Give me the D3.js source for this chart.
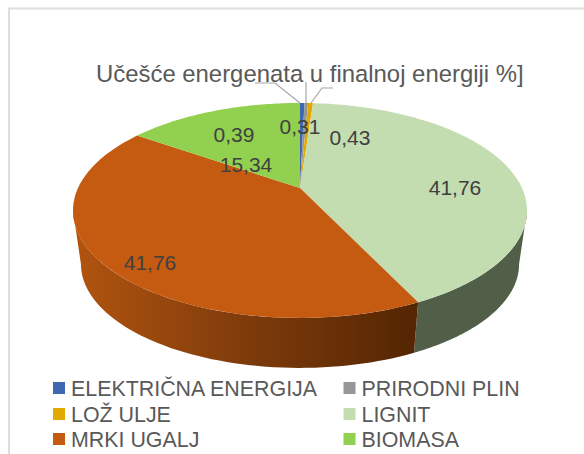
<!DOCTYPE html>
<html><head><meta charset="utf-8">
<script src="https://cdnjs.cloudflare.com/ajax/libs/d3/7.8.5/d3.min.js"></script>
<style>html,body{margin:0;background:#fff}svg{display:block}text{font-family:"Liberation Sans",Arial,sans-serif}</style>
</head><body><svg id="c" width="584" height="454"></svg>
<script>
const chartTitle = "Učešće energenata u finalnoj energiji %]";
const categories = ["ELEKTRIČNA ENERGIJA","PRIRODNI PLIN","LOŽ ULJE","LIGNIT","MRKI UGALJ","BIOMASA"];
const values = [0.39,0.31,0.43,41.76,41.76,15.34];
const valueLabels = ["0,39","0,31","0,43","41,76","41,76","15,34"];
const colors = ["#3f68b0","#969696","#e2aa00","#c3dcb0","#c55a11","#92d050"];
const sideColors = ["#2a4676","#656565","#987300","#515e48","#6b310a","#628c36"];

const svg = d3.select("#c");
const apex = {x:300,y:188}, A = 222, B = 102.8, K = 0.209;
const baseApexY = 242.5, baseScale = 0.965;
const project = (t) => {
  const u = Math.sin(t), v = Math.cos(t), w = 1 + K*v;
  return [apex.x + A*u/w, apex.y - B*v/w];
};
const projectBase = (t) => {
  const p = project(t);
  return [apex.x + (p[0]-apex.x)*baseScale, baseApexY + (p[1]-apex.y)*baseScale];
};
const slices = d3.pie().sort(null).value(d=>d)(values);
const line = d3.line();
const steps = (a,b) => d3.range(0,61).map(i => a + (b-a)*i/60);

// frame
svg.append("path").attr("d","M9,454V8.5H584").attr("fill","none").attr("stroke","#dedede").attr("stroke-width",2);

// gradient for the coal slice wall
const defs = svg.append("defs");
const g = defs.append("linearGradient").attr("id","sideOrange").attr("gradientUnits","userSpaceOnUse")
  .attr("x1",73).attr("x2",412).attr("y1",0).attr("y2",0);
[[0,"#b2540f"],[0.52,"#7d3b0b"],[1,"#552603"]].forEach(s=>g.append("stop").attr("offset",s[0]).attr("stop-color",s[1]));

// walls: only the part of the rim between the two silhouette tangents is visible
const rimFrom = Math.acos(-K), rimTo = 2*Math.PI - rimFrom;
slices.forEach((s,i)=>{
  const a = Math.max(s.startAngle,rimFrom), b = Math.min(s.endAngle,rimTo);
  if (b <= a) return;
  const ts = steps(a,b);
  const pts = ts.map(project).concat(ts.slice().reverse().map(projectBase));
  svg.append("path").attr("d",line(pts)+"Z")
    .attr("fill", i===4 ? "url(#sideOrange)" : sideColors[i]);
});
// top face
slices.forEach((s,i)=>{
  const pts = [[apex.x,apex.y]].concat(steps(s.startAngle,s.endAngle).map(project));
  svg.append("path").attr("d",line(pts)+"Z").attr("fill",colors[i]);
});
// leaders
const grey="#a6a6a6";
const leaders=[[[255,83],[275,83],[300,103]],[[306,82],[306,103]],[[333,88],[322,88],[311,103]]];
leaders.forEach(l=>svg.append("path").attr("d",line(l)).attr("fill","none").attr("stroke",grey).attr("stroke-width",1.2));

// title
svg.append("text").attr("x",96).attr("y",82).attr("font-size",23.9).attr("fill","#595959").text(chartTitle);

// value labels
const labelPos=[[234,134],[300,126],[350,137],[455,187],[150,262],[246,164]];
valueLabels.forEach((t,i)=>svg.append("text").attr("x",labelPos[i][0]).attr("y",labelPos[i][1]+7.5)
  .attr("text-anchor","middle").attr("font-size",21).attr("fill","#404040").text(t));

// legend
const lx = d3.scaleOrdinal().domain([0,1]).range([53,343.5]);
const ly = d3.scaleOrdinal().domain([0,1,2]).range([382,408,433]);
categories.forEach((c,i)=>{
  const col=i%2,row=Math.floor(i/2);
  svg.append("rect").attr("x",lx(col)).attr("y",ly(row)).attr("width",12).attr("height",12).attr("fill",colors[i]);
  svg.append("text").attr("x",lx(col)+18).attr("y",ly(row)+13.5).attr("font-size",21.4).attr("fill","#595959").text(c);
});
</script></body></html>
